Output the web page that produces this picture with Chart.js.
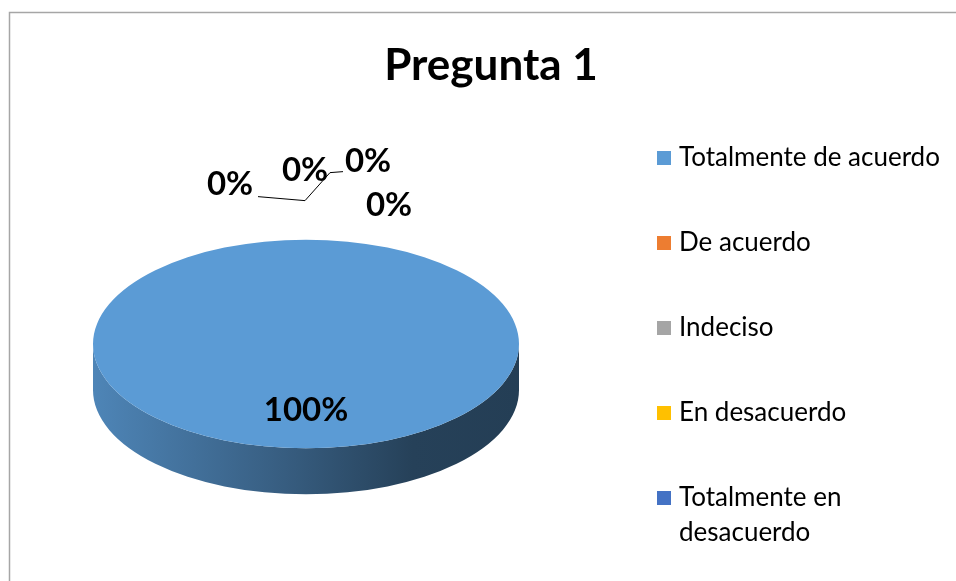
<!DOCTYPE html>
<html>
<head>
<meta charset="utf-8">
<script src="https://cdn.jsdelivr.net/npm/chart.js@4.4.0/dist/chart.umd.min.js"></script>
<style>
  html, body { margin: 0; padding: 0; background: #fff; }
</style>
</head>
<body>
<canvas id="myChart" width="956" height="581"></canvas>
<script>
// data
const chartTitle = "Pregunta 1";
const categories = ["Totalmente de acuerdo", "De acuerdo", "Indeciso", "En desacuerdo", "Totalmente en desacuerdo"];
const legendLines = [["Totalmente de acuerdo"], ["De acuerdo"], ["Indeciso"], ["En desacuerdo"], ["Totalmente en", "desacuerdo"]];
const percentValues = [100, 0, 0, 0, 0];
const sliceColors = ["#5B9BD5", "#ED7D31", "#A5A5A5", "#FFC000", "#4472C4"];

// look of the fake 3d pie
const tilt = 0.49;
const depth = 46;
const fontName = "Lato, 'Open Sans', sans-serif";

function shade(hex, f) {
  const n = parseInt(hex.slice(1), 16);
  const r = Math.round(((n >> 16) & 255) * f);
  const g = Math.round(((n >> 8) & 255) * f);
  const b = Math.round((n & 255) * f);
  return "rgb(" + r + "," + g + "," + b + ")";
}

const pie3d = {
  id: "pie3d",
  beforeDraw(chart) {
    const ctx = chart.ctx;
    ctx.save();
    ctx.fillStyle = "#fff";
    ctx.fillRect(0, 0, chart.width, chart.height);
    ctx.strokeStyle = "#a6a6a6";
    ctx.lineWidth = 1.5;
    ctx.strokeRect(9.5, 12.5, chart.width + 20, chart.height + 20);
    // title
    ctx.fillStyle = "#000";
    ctx.font = "bold 44px " + fontName;
    ctx.textAlign = "center";
    ctx.textBaseline = "alphabetic";
    ctx.fillText(chartTitle, 491, 80);
    ctx.restore();
  },
  beforeDatasetsDraw(chart) {
    const ctx = chart.ctx;
    const meta = chart.getDatasetMeta(0);
    // side walls, only the front half (0..PI) is visible
    meta.data.forEach((arc, i) => {
      const p = arc.getProps(["x", "y", "startAngle", "endAngle", "outerRadius"], true);
      if (p.endAngle - p.startAngle <= 0) return;
      let a0 = p.startAngle, a1 = p.endAngle;
      while (a0 < 0) { a0 += Math.PI * 2; a1 += Math.PI * 2; }
      const segs = [[a0, a1], [a0 - Math.PI * 2, a1 - Math.PI * 2]];
      const rx = p.outerRadius, ry = p.outerRadius * tilt;
      segs.forEach(([s, e]) => {
        const lo = Math.max(s, 0), hi = Math.min(e, Math.PI);
        if (hi <= lo) return;
        const grad = ctx.createLinearGradient(p.x - rx, 0, p.x + rx, 0);
        const c = sliceColors[i];
        grad.addColorStop(0, shade(c, 0.86));
        grad.addColorStop(0.45, shade(c, 0.6));
        grad.addColorStop(0.75, shade(c, 0.42));
        grad.addColorStop(1, shade(c, 0.4));
        ctx.save();
        ctx.beginPath();
        ctx.ellipse(p.x, p.y, rx, ry, 0, lo, hi, false);
        ctx.ellipse(p.x, p.y + depth, rx, ry, 0, hi, lo, true);
        ctx.closePath();
        ctx.fillStyle = grad;
        ctx.fill();
        ctx.restore();
      });
    });
    // squash the top face
    const first = meta.data[0];
    ctx.save();
    ctx.translate(first.x, first.y);
    ctx.scale(1, tilt);
    ctx.translate(-first.x, -first.y);
  },
  afterDatasetsDraw(chart) {
    const ctx = chart.ctx;
    ctx.restore();
    const meta = chart.getDatasetMeta(0);
    ctx.save();
    ctx.fillStyle = "#000";
    ctx.textAlign = "center";
    ctx.textBaseline = "middle";
    ctx.font = "bold 33px " + fontName;
    // offsets of the crowded zero labels around their slice point
    const zeroOffsets = [[-76, -55], [-1, -69], [62, -78], [83, -34]];
    let z = 0;
    let topPoint = null;
    meta.data.forEach((arc, i) => {
      const p = arc.getProps(["x", "y", "startAngle", "endAngle", "outerRadius"], true);
      const mid = (p.startAngle + p.endAngle) / 2;
      const txt = percentValues[i] + "%";
      if (percentValues[i] > 0) {
        const r = p.outerRadius * 0.64;
        ctx.fillText(txt, p.x + Math.cos(mid) * r, p.y + Math.sin(mid) * r * tilt);
      } else {
        const ax = p.x + Math.cos(mid) * p.outerRadius;
        const ay = p.y + Math.sin(mid) * p.outerRadius * tilt;
        topPoint = [ax, ay];
        const o = zeroOffsets[z++];
        ctx.fillText(txt, ax + o[0], ay + o[1]);
      }
    });
    if (topPoint) {
      const leader = [[-48, -43], [-1, -39], [24, -67], [37, -68]];
      ctx.strokeStyle = "#000";
      ctx.lineWidth = 1;
      ctx.beginPath();
      leader.forEach(([dx, dy], k) => {
        const px = topPoint[0] + dx, py = topPoint[1] + dy;
        if (k === 0) ctx.moveTo(px, py); else ctx.lineTo(px, py);
      });
      ctx.stroke();
    }
    ctx.restore();
  },
  afterDraw(chart) {
    // legend on the right
    const ctx = chart.ctx;
    ctx.save();
    ctx.font = "26px " + fontName;
    ctx.textBaseline = "middle";
    ctx.textAlign = "left";
    categories.forEach((cat, i) => {
      const y = 158 + i * 85;
      ctx.fillStyle = sliceColors[i];
      ctx.fillRect(657, y - 7, 14, 14);
      ctx.fillStyle = "#000";
      legendLines[i].forEach((line, k) => ctx.fillText(line, 679, y + k * 35));
    });
    ctx.restore();
  }
};

const myChartRef = document.getElementById("myChart").getContext("2d");
const myPieChart = new Chart(myChartRef, {
  type: "pie",
  data: {
    labels: categories,
    datasets: [
      {
        data: percentValues,
        backgroundColor: sliceColors,
        borderWidth: 0,
        clip: false,
      },
    ],
  },
  options: {
    responsive: false,
    animation: false,
    layout: { padding: { left: 93, right: 437, top: 131, bottom: 24 } },
    plugins: {
      legend: { display: false },
      title: { display: false },
      tooltip: { enabled: false },
    },
  },
  plugins: [pie3d],
});
</script>
</body>
</html>
